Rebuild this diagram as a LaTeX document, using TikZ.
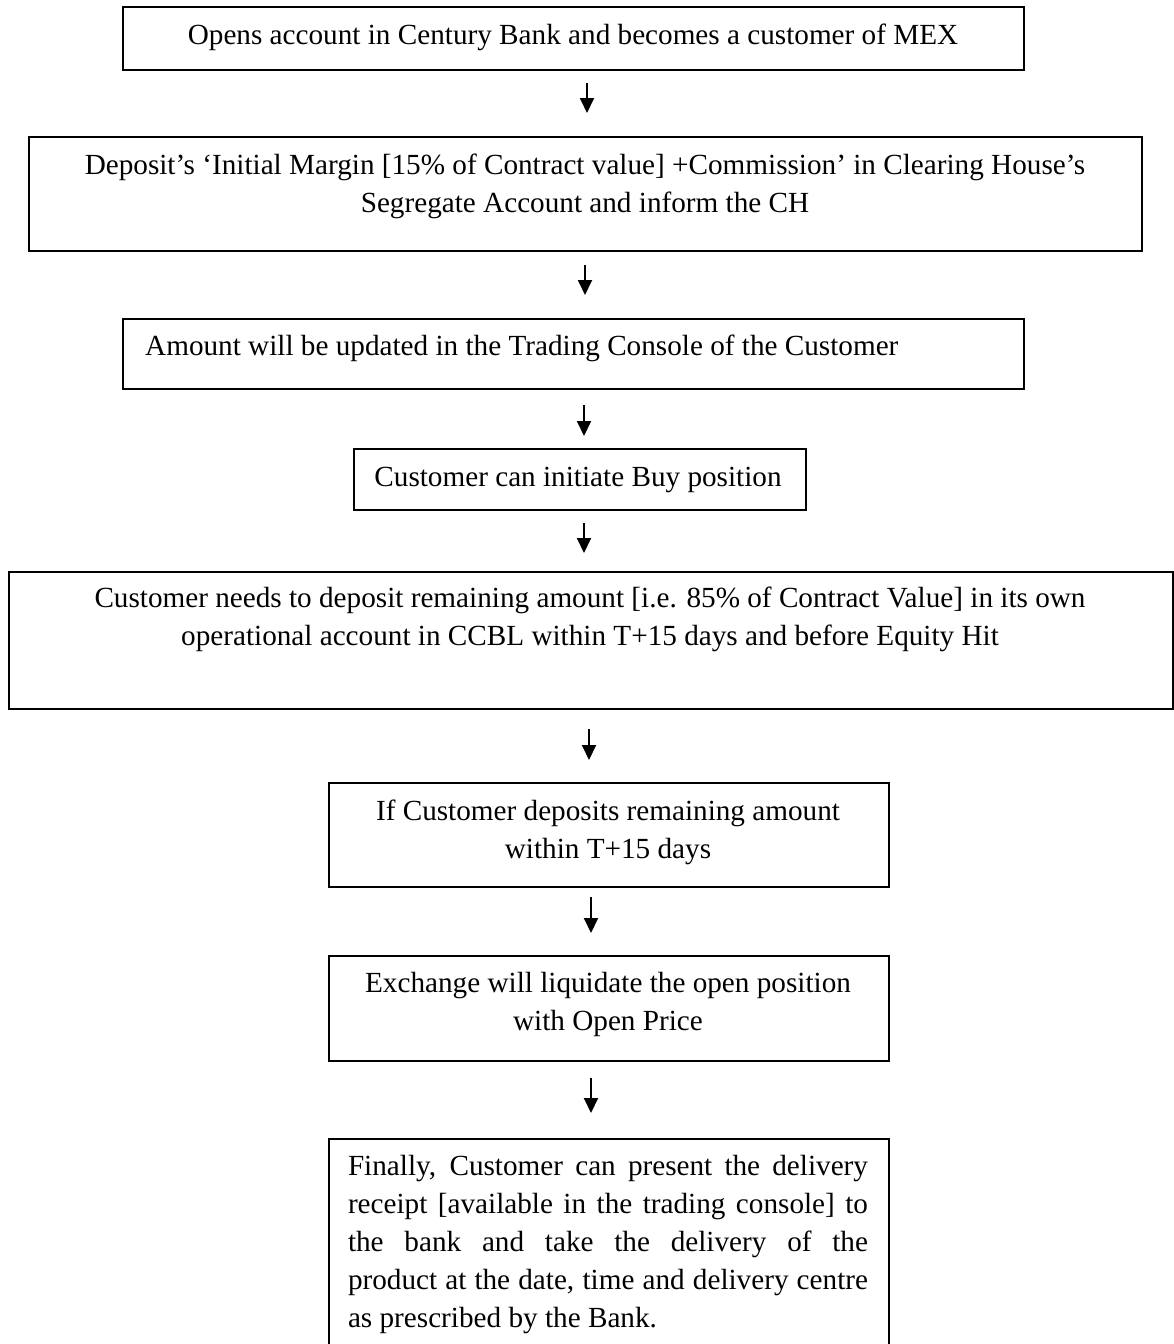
\documentclass[tikz,border=0pt]{standalone}
\usepackage{fontspec}
\setmainfont{Liberation Serif}
\usetikzlibrary{arrows.meta}
\begin{document}
\begin{tikzpicture}[x=1pt,y=-1pt,
  box/.style={draw=black,line width=1.8pt,inner sep=0pt,anchor=north west},
  txt/.style={inner sep=0pt,font=\fontsize{29.2}{38}\selectfont},
  arr/.style={line width=1.9pt,-{Triangle[length=15pt,width=14pt]}}]
\useasboundingbox (0,0) rectangle (1174,1344);
\clip (0,0) rectangle (1174,1344);
% boxes
\node[box,minimum width=901pt,minimum height=63pt] (b1) at (122,6) {};
\node[box,minimum width=1113pt,minimum height=114pt] (b2) at (28,136) {};
\node[box,minimum width=901pt,minimum height=70pt] (b3) at (122,318) {};
\node[box,minimum width=452pt,minimum height=61pt] (b4) at (353,448) {};
\node[box,minimum width=1164pt,minimum height=137pt] (b5) at (8,571) {};
\node[box,minimum width=560pt,minimum height=104pt] (b6) at (328,782) {};
\node[box,minimum width=560pt,minimum height=105pt] (b7) at (328,955) {};
\node[box,minimum width=560pt,minimum height=240pt] (b8) at (328,1138) {};
% texts
\node[txt,anchor=base] (t1) at (573,44) {Opens account in Century Bank and becomes a customer of MEX};
\node[txt,anchor=base,text width=1100pt,align=flush center] (t2) at (585,174) {Deposit’s ‘Initial Margin [15\% of Contract value] +Commission’ in Clearing House’s\\Segregate Account and inform the CH};
\node[txt,anchor=base west] (t3) at (145,355) {Amount will be updated in the Trading Console of the Customer};
\node[txt,anchor=base] (t4) at (578,486) {Customer can initiate Buy position};
\node[txt,anchor=base,text width=1150pt,align=flush center] (t5) at (590,607) {Customer needs to deposit remaining amount [i.e. 85\% of Contract Value] in its own\\operational account in CCBL within T+15 days and before Equity Hit};
\node[txt,anchor=base,text width=550pt,align=flush center] (t6) at (608,820) {If Customer deposits remaining amount\\within T+15 days};
\node[txt,anchor=base,text width=550pt,align=flush center] (t7) at (608,992) {Exchange will liquidate the open position\\with Open Price};
\node[txt,anchor=base,text width=520pt,align=justify] (t8) at (608,1175) {\tolerance=9999\hbadness=10000 Finally, Customer can present the delivery\linebreak receipt [available in the trading console] to\linebreak the bank and take the delivery of the\linebreak product at the date, time and delivery centre\linebreak as prescribed by the Bank.};
% arrow end points
\coordinate (a1s) at (587,83);  \coordinate (a1e) at (587,113);
\coordinate (a2s) at (585,265); \coordinate (a2e) at (585,295);
\coordinate (a3s) at (584,405); \coordinate (a3e) at (584,436);
\coordinate (a4s) at (584,523); \coordinate (a4e) at (584,553);
\coordinate (a5s) at (589,729); \coordinate (a5e) at (589,760);
\coordinate (a6s) at (591,897); \coordinate (a6e) at (591,933);
\coordinate (a7s) at (591,1078); \coordinate (a7e) at (591,1113);
\draw[arr] (a1s) -- (a1e);
\draw[arr] (a2s) -- (a2e);
\draw[arr] (a3s) -- (a3e);
\draw[arr] (a4s) -- (a4e);
\draw[arr] (a5s) -- (a5e);
\draw[arr] (a6s) -- (a6e);
\draw[arr] (a7s) -- (a7e);
\end{tikzpicture}
\end{document}
